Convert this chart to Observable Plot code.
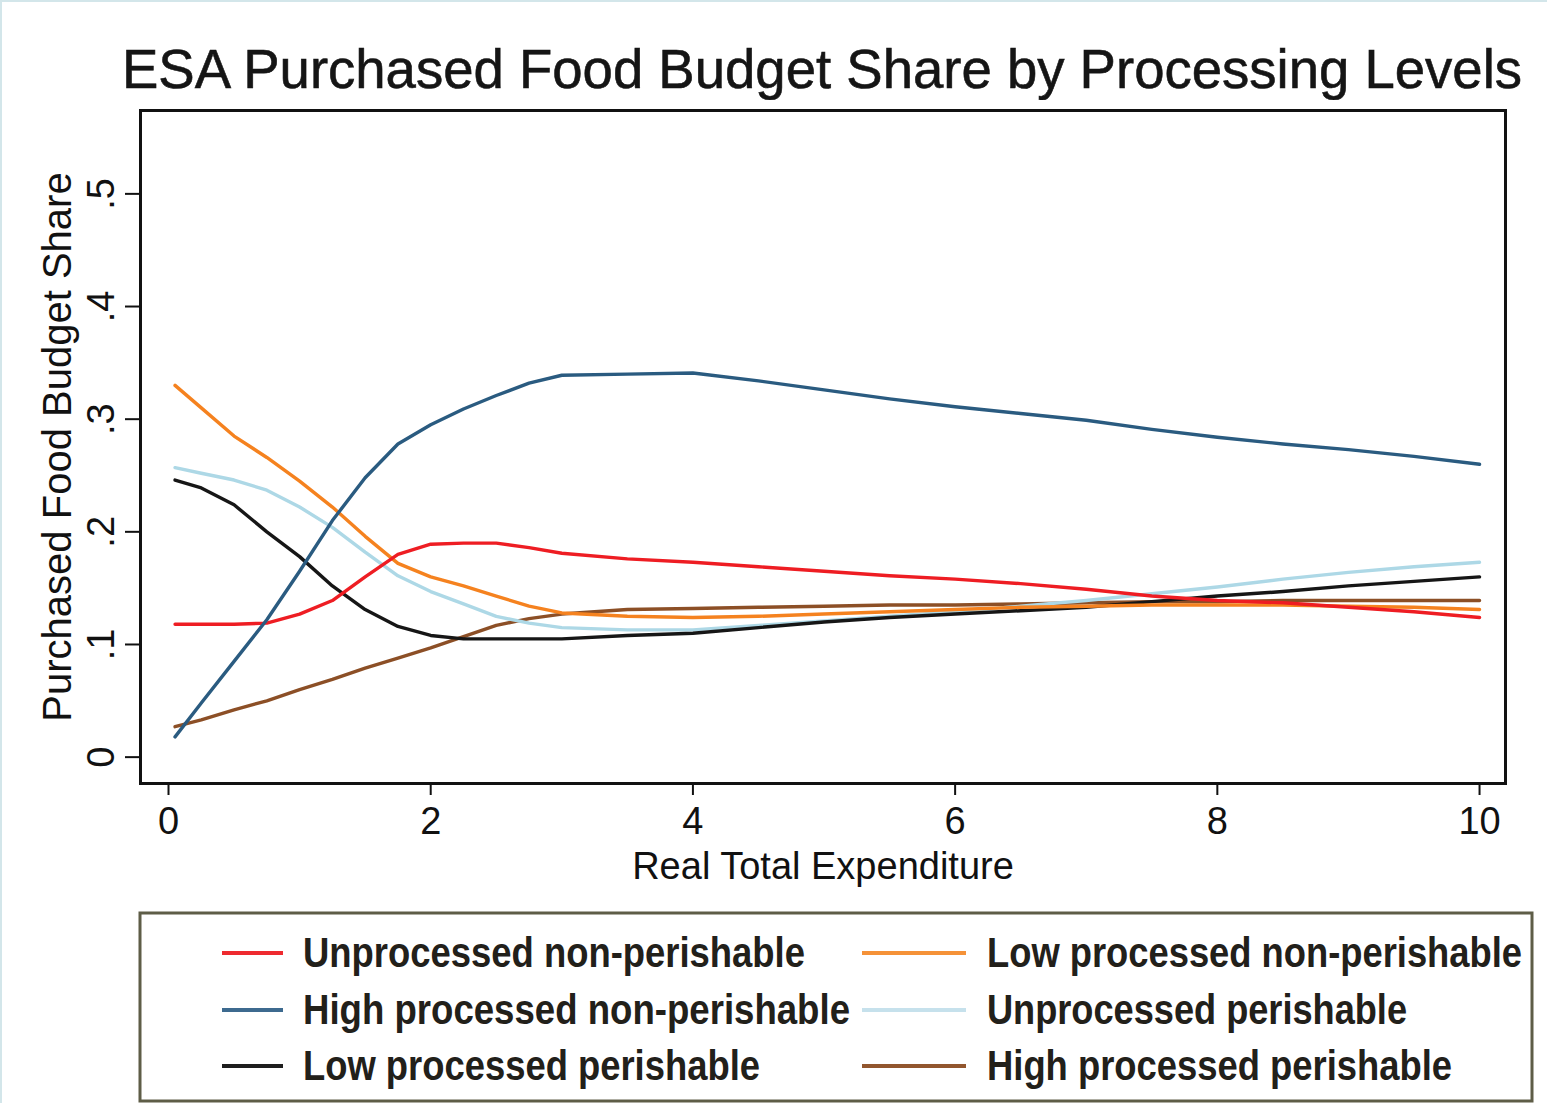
<!DOCTYPE html>
<html><head><meta charset="utf-8">
<script src="https://cdn.jsdelivr.net/npm/d3@7"></script>
<script src="https://cdn.jsdelivr.net/npm/@observablehq/plot@0.6"></script>
<style>
body{margin:0;background:#fff;width:1547px;height:1103px;position:relative;overflow:hidden;font-family:"Liberation Sans",Arial,sans-serif}
#title,#chart,#legend{position:absolute;left:0}
#title{top:0}#chart{top:100px}#legend{top:900px}
#edge{position:absolute;left:0;top:0;width:1545px;height:1101px;border-left:2px solid #d3e6ea;border-top:2px solid #d3e6ea;pointer-events:none}
</style></head><body>
<div id="title"></div><div id="chart"></div><div id="legend"></div><div id="edge"></div>
<script>
const titleText = "ESA Purchased Food Budget Share by Processing Levels";
const xLabel = "Real Total Expenditure";
const yLabel = "Purchased Food Budget Share";
const xTicks = [0, 2, 4, 6, 8, 10];
const yTicks = [0, 0.1, 0.2, 0.3, 0.4, 0.5];

// x values (real total expenditure)
const xs = [0.05, 0.25, 0.5, 0.75, 1.0, 1.25, 1.5, 1.75, 2.0, 2.25, 2.5, 2.75, 3.0, 3.5, 4.0, 4.5, 5.0, 5.5, 6.0, 6.5, 7.0, 7.5, 8.0, 8.5, 9.0, 9.5, 10];

const seriesNames = [
  "Unprocessed non-perishable", "Low processed non-perishable",
  "High processed non-perishable", "Unprocessed perishable",
  "Low processed perishable", "High processed perishable"
];
const seriesColors = ["#ee1d23", "#f5821f", "#2a5b80", "#add8e6", "#161616", "#8c4f26"];
const legendColors = ["#ee2a2f", "#f59238", "#3d6a8f", "#c6e1ec", "#1e1e1e", "#92562e"];

const unprocessedNonPerishable = [0.118,0.118,0.118,0.119,0.127,0.139,0.160,0.180,0.189,0.190,0.190,0.186,0.181,0.176,0.173,0.169,0.165,0.161,0.158,0.154,0.149,0.143,0.139,0.137,0.133,0.129,0.124];
const lowProcessedNonPerishable = [0.330,0.310,0.285,0.266,0.245,0.222,0.196,0.172,0.160,0.152,0.143,0.134,0.128,0.125,0.124,0.125,0.127,0.129,0.131,0.133,0.134,0.135,0.135,0.135,0.134,0.133,0.131];
const highProcessedNonPerishable = [0.018,0.048,0.085,0.122,0.165,0.210,0.248,0.278,0.295,0.309,0.321,0.332,0.339,0.340,0.341,0.334,0.326,0.318,0.311,0.305,0.299,0.291,0.284,0.278,0.273,0.267,0.260];
const unprocessedPerishable = [0.257,0.252,0.246,0.237,0.222,0.204,0.182,0.161,0.147,0.136,0.125,0.119,0.115,0.113,0.113,0.117,0.121,0.125,0.129,0.134,0.139,0.145,0.151,0.158,0.164,0.169,0.173];
const lowProcessedPerishable = [0.246,0.239,0.224,0.200,0.178,0.152,0.131,0.116,0.108,0.105,0.105,0.105,0.105,0.108,0.110,0.115,0.120,0.124,0.127,0.130,0.133,0.138,0.143,0.147,0.152,0.156,0.160];
const highProcessedPerishable = [0.027,0.033,0.042,0.050,0.060,0.069,0.079,0.088,0.097,0.107,0.117,0.123,0.127,0.131,0.132,0.133,0.134,0.135,0.135,0.136,0.137,0.138,0.138,0.139,0.139,0.139,0.139];

const seriesValues = [unprocessedNonPerishable, lowProcessedNonPerishable, highProcessedNonPerishable, unprocessedPerishable, lowProcessedPerishable, highProcessedPerishable];
const drawOrder = [5, 3, 4, 1, 0, 2];

const data = drawOrder.flatMap(i => xs.map((x, j) => ({name: seriesNames[i], x, y: seriesValues[i][j]})));

const fmtY = d => d === 0 ? "0" : d3.format(".1f")(d).replace(/^0/, "");

const plot = Plot.plot({
  width: 1547, height: 800,
  marginLeft: 140, marginRight: 42, marginTop: 10, marginBottom: 117,
  x: {domain: [-0.2136, 10.198]},
  y: {domain: [-0.0234, 0.574]},
  color: {domain: seriesNames, range: seriesColors},
  style: {fontFamily: "'Liberation Sans', Arial, sans-serif", color: "#111", background: "white", overflow: "visible"},
  marks: [
    Plot.line(data, {x: "x", y: "y", z: "name", stroke: "name", strokeWidth: 3.4}),
    Plot.frame({stroke: "#111", strokeWidth: 3}),
    Plot.axisX({ticks: xTicks, tickSize: 12, tickPadding: 12, fontSize: 38, strokeWidth: 2,
      label: xLabel, labelAnchor: "center", labelArrow: "none", labelOffset: 95}),
    Plot.axisY({ticks: yTicks, tickSize: 15, tickPadding: 12, tickRotate: -90, fontSize: 38, strokeWidth: 2,
      tickFormat: fmtY, label: null}),
    Plot.axisY({ticks: [], tickSize: 0, fontSize: 40,
      label: yLabel, labelAnchor: "center", labelArrow: "none", labelOffset: 98})
  ]
});
document.getElementById("chart").append(plot);

// Title
const tsvg = d3.select("#title").append("svg").attr("width", 1547).attr("height", 100);
tsvg.append("text").attr("x", 122).attr("y", 88)
  .attr("font-family", "'Liberation Sans', Arial, sans-serif").attr("font-size", 56).attr("fill", "#151515")
  .attr("stroke", "#151515").attr("stroke-width", 0.6)
  .attr("textLength", 1400).attr("lengthAdjust", "spacingAndGlyphs").text(titleText);

// Legend
const lsvg = d3.select("#legend").append("svg").attr("width", 1547).attr("height", 203);
lsvg.append("rect").attr("x", 140).attr("y", 13).attr("width", 1392).attr("height", 188)
  .attr("fill", "white").attr("stroke", "#5e5d47").attr("stroke-width", 3);
const colSwatch = [[222, 283], [862, 966]];
const colText = [303, 987];
const rowY = [53, 110, 166];
const legendTextWidths = [502, 535, 547, 420, 457, 465];
seriesNames.forEach((name, i) => {
  const c = i % 2, r = Math.floor(i / 2);
  lsvg.append("line").attr("x1", colSwatch[c][0]).attr("x2", colSwatch[c][1])
    .attr("y1", rowY[r]).attr("y2", rowY[r]).attr("stroke", legendColors[i]).attr("stroke-width", 4);
  lsvg.append("text").attr("x", colText[c]).attr("y", rowY[r] + 14)
    .attr("font-family", "'Liberation Sans', Arial, sans-serif")
    .attr("font-weight", "bold").attr("font-size", 42).attr("fill", "#22201a")
    .attr("textLength", legendTextWidths[i]).attr("lengthAdjust", "spacingAndGlyphs").text(name);
});
</script>
</body></html>
